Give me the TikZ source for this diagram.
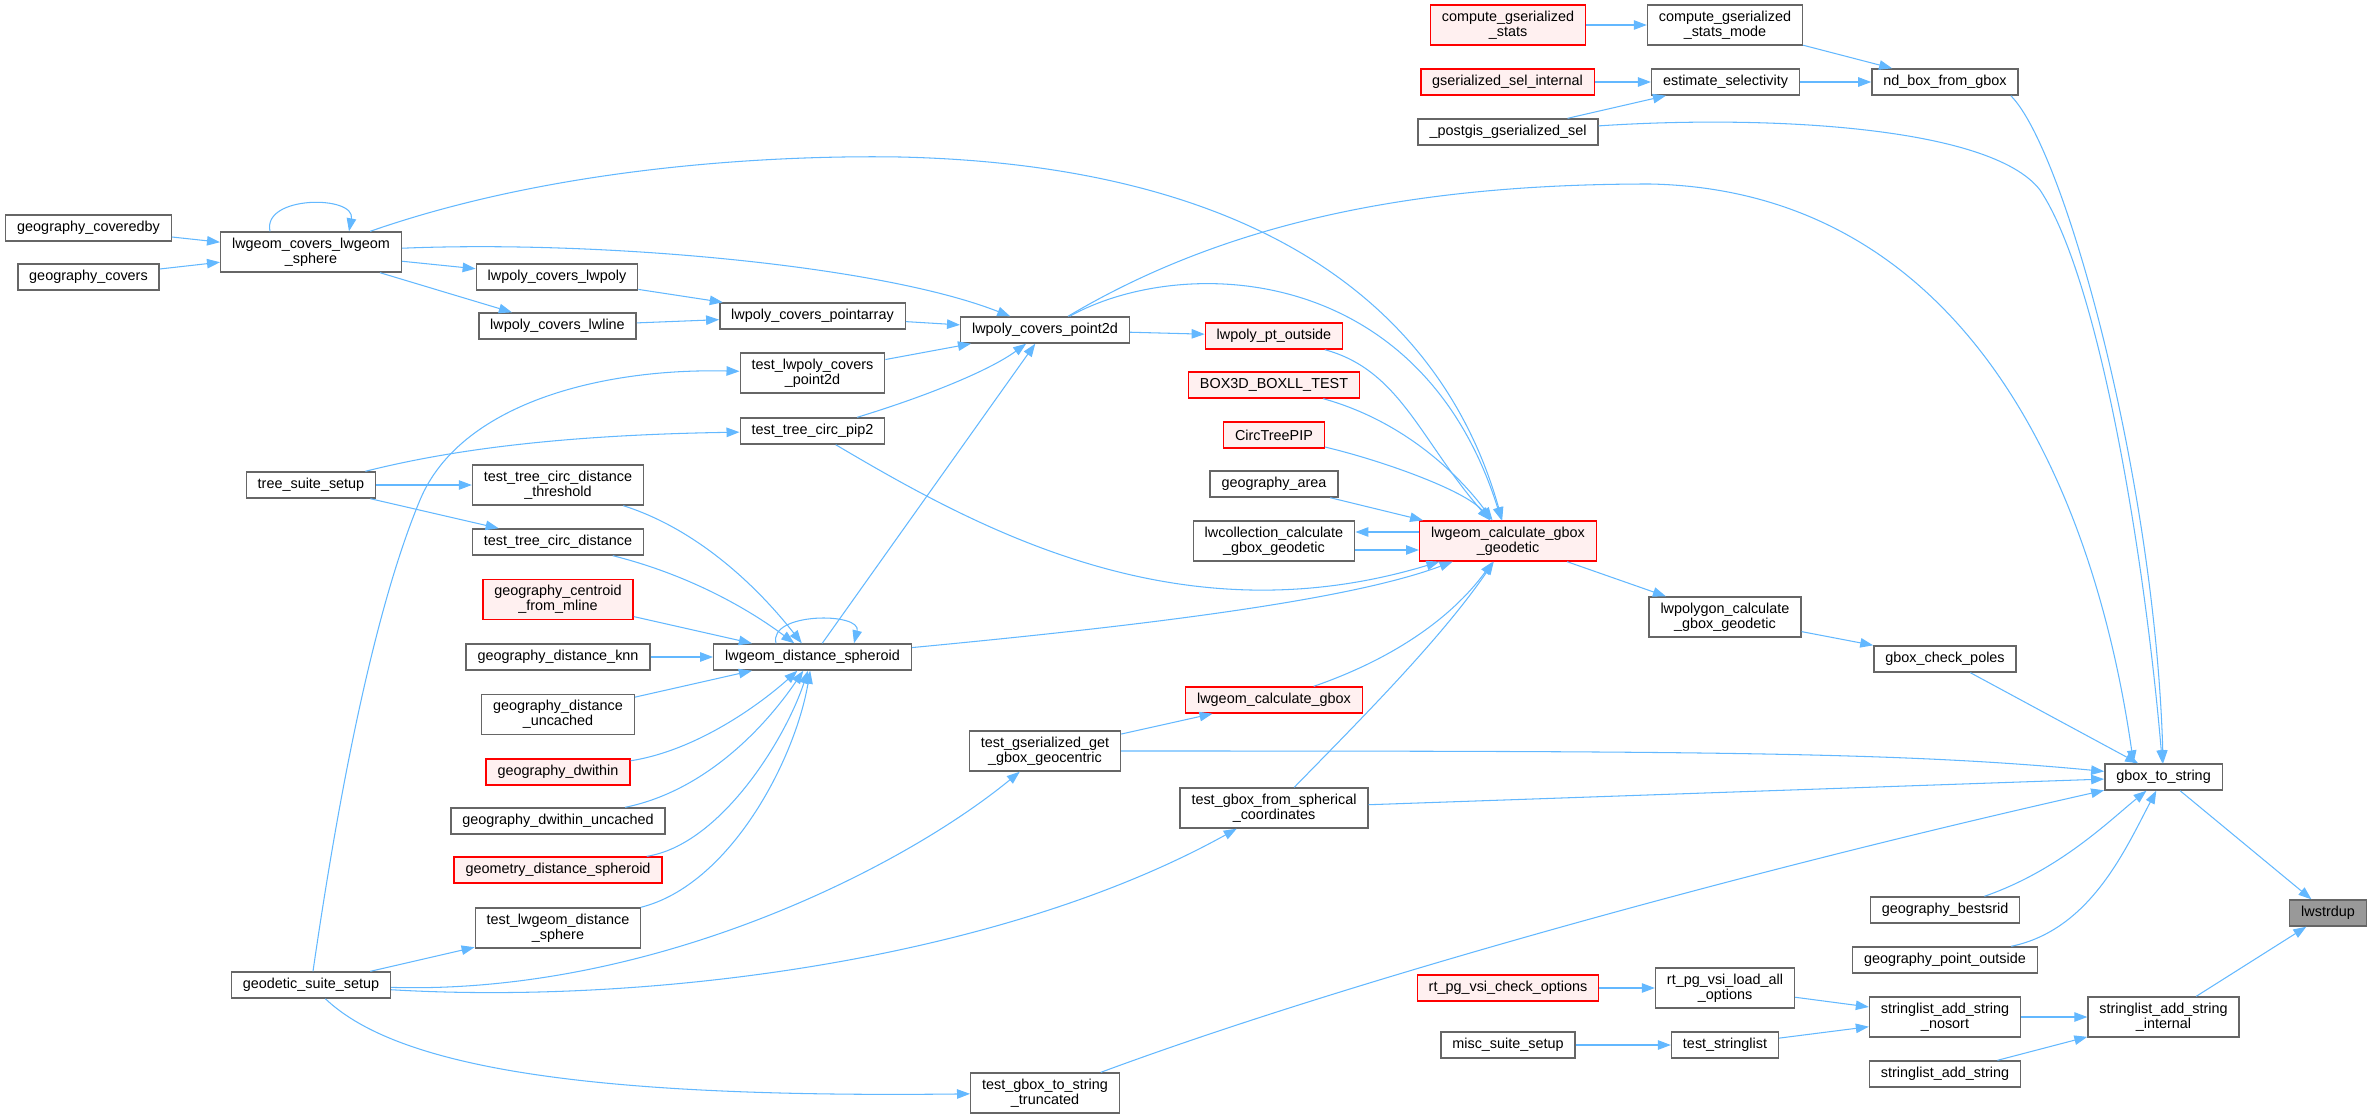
\documentclass[tikz,border=0pt]{standalone}
\usepackage{fontspec}
\setmainfont{Liberation Sans}
\usetikzlibrary{arrows.meta}
\definecolor{edgeblue}{HTML}{63B8FF}
\definecolor{boxgray}{HTML}{666666}
\definecolor{redfill}{HTML}{FFF0F0}
\definecolor{rootfill}{HTML}{999999}
\begin{document}
\begin{tikzpicture}[x=0.02cm,y=-0.02cm,
    box/.style={draw=boxgray,line width=0.8pt,fill=white,inner xsep=6.5pt,inner ysep=2pt,
      minimum height=0.52cm,align=center,font=\fontsize{8.2}{8.4}\selectfont},
    redbox/.style={box,draw=red,fill=redfill},
    rootbox/.style={box,fill=rootfill},
    tall/.style={minimum height=0.8cm},
    call/.style={draw=edgeblue,line width=0.6pt,-{Triangle[length=0.26cm,width=0.19cm]}}]
    \useasboundingbox (0,0) rectangle (2373,1119);

    \node[redbox,tall] (cgs) at (1508,25){compute\_gserialized\\\_stats};
    \node[box,tall] (cgsm) at (1725,25){compute\_gserialized\\\_stats\_mode};
    \node[redbox] (gsi) at (1507.5,82){gserialized\_sel\_internal};
    \node[box] (estsel) at (1725.5,82){estimate\_selectivity};
    \node[box] (ndbox) at (1945,82){nd\_box\_from\_gbox};
    \node[box] (pgsel) at (1508,132){\_postgis\_gserialized\_sel};
    \node[box] (gcby) at (88.5,228){geography\_coveredby};
    \node[box] (gcov) at (88.5,277){geography\_covers};
    \node[box,tall] (sphere) at (311,252){lwgeom\_covers\_lwgeom\\\_sphere};
    \node[box] (cvpoly) at (557,277){lwpoly\_covers\_lwpoly};
    \node[box] (cvline) at (557.5,326){lwpoly\_covers\_lwline};
    \node[box] (cvparr) at (812.5,316){lwpoly\_covers\_pointarray};
    \node[box] (cvp2d) at (1045,330){lwpoly\_covers\_point2d};
    \node[redbox] (ptout) at (1274,336){lwpoly\_pt\_outside};
    \node[box,tall] (tcvp2d) at (812.5,373){test\_lwpoly\_covers\\\_point2d};
    \node[redbox] (box3d) at (1274,385){BOX3D\_BOXLL\_TEST};
    \node[box] (pip2) at (812.5,431){test\_tree\_circ\_pip2};
    \node[redbox] (ctpip) at (1274,435){CircTreePIP};
    \node[box] (treesetup) at (311,485){tree\_suite\_setup};
    \node[box,tall] (tcdthr) at (558,485){test\_tree\_circ\_distance\\\_threshold};
    \node[box] (garea) at (1274,484){geography\_area};
    \node[box,tall] (lwcoll) at (1274,541){lwcollection\_calculate\\\_gbox\_geodetic};
    \node[redbox,tall] (calcgeod) at (1508,541){lwgeom\_calculate\_gbox\\\_geodetic};
    \node[box] (tcd) at (558,542){test\_tree\_circ\_distance};
    \node[redbox,tall] (gcent) at (558,599.5){geography\_centroid\\\_from\_mline};
    \node[box,tall] (lwpolyg) at (1725,617){lwpolygon\_calculate\\\_gbox\_geodetic};
    \node[box] (gknn) at (558,657){geography\_distance\_knn};
    \node[box] (dspher) at (812.5,657){lwgeom\_distance\_spheroid};
    \node[box] (gpoles) at (1945,659){gbox\_check\_poles};
    \node[redbox] (calcgbox) at (1274,700){lwgeom\_calculate\_gbox};
    \node[box,tall] (gdunc) at (558,714.5){geography\_distance\\\_uncached};
    \node[box,tall] (tgeocen) at (1045,751){test\_gserialized\_get\\\_gbox\_geocentric};
    \node[redbox] (gdw) at (558,772){geography\_dwithin};
    \node[box] (g2s) at (2163.5,777){gbox\_to\_string};
    \node[box,tall] (tsph) at (1274,808){test\_gbox\_from\_spherical\\\_coordinates};
    \node[box] (gdwunc) at (558,821){geography\_dwithin\_uncached};
    \node[redbox] (geomds) at (558,870){geometry\_distance\_spheroid};
    \node[box] (bestsrid) at (1945,910){geography\_bestsrid};
    \node[rootbox] (lwstrdup) at (2328,913){lwstrdup};
    \node[box,tall] (tlds) at (558,928){test\_lwgeom\_distance\\\_sphere};
    \node[box] (ptoutside) at (1945,960){geography\_point\_outside};
    \node[box] (geosetup) at (311,985){geodetic\_suite\_setup};
    \node[redbox] (vsichk) at (1508,988){rt\_pg\_vsi\_check\_options};
    \node[box,tall] (vsiload) at (1725,988){rt\_pg\_vsi\_load\_all\\\_options};
    \node[box,tall] (slnosort) at (1945,1017){stringlist\_add\_string\\\_nosort};
    \node[box,tall] (slint) at (2163.5,1017){stringlist\_add\_string\\\_internal};
    \node[box] (miscsetup) at (1508,1045){misc\_suite\_setup};
    \node[box] (tstrl) at (1725,1045){test\_stringlist};
    \node[box] (sladd) at (1945,1074){stringlist\_add\_string};
    \node[box,tall] (ttrunc) at (1045,1093){test\_gbox\_to\_string\\\_truncated};

    \draw (cgs) edge[call] (cgsm);
    \draw (cgsm) edge[call] (ndbox);
    \draw (gsi) edge[call] (estsel);
    \draw (pgsel) edge[call] (estsel);
    \draw (estsel) edge[call] (ndbox);
    \draw[call] ([xshift=-0.16cm]ndbox.south east) .. controls (2065,150) and (2155,480) .. (g2s);
    \draw[call] (pgsel) .. controls (1760,115) and (1990,125) .. (2040,190) .. controls (2100,280) and (2145,560) .. (g2s);

    \draw (gcby) edge[call] (sphere);
    \draw (gcov) edge[call] (sphere);
    \draw[call] ([xshift=-0.82cm]sphere.north) .. controls (262,195) and (356,195) .. ([xshift=0.76cm]sphere.north);
    \draw[call] (sphere) .. controls (560,165) and (780,155) .. (900,157) .. controls (1250,165) and (1440,300) .. (calcgeod);
    \draw[call] (sphere) .. controls (600,240) and (880,265) .. (cvp2d);
    \draw (sphere) edge[call] (cvpoly);
    \draw (sphere) edge[call] (cvline);
    \draw (cvpoly) edge[call] (cvparr);
    \draw (cvline) edge[call] (cvparr);
    \draw (cvparr) edge[call] (cvp2d);
    \draw (tcvp2d) edge[call] (cvp2d);
    \draw[call] (pip2) .. controls (930,395) and (990,370) .. (cvp2d);
    \draw (dspher) edge[call] (cvp2d);
    \draw (cvp2d) edge[call] (ptout);
    \draw[call] (cvp2d) .. controls (1180,255) and (1420,260) .. (calcgeod);
    \draw[call] (cvp2d) .. controls (1230,220) and (1420,184) .. (1650,184) .. controls (1950,190) and (2090,460) .. ([xshift=-0.6cm]g2s.north);

    \draw[call] (ptout) .. controls (1400,370) and (1420,440) .. (calcgeod);
    \draw[call] (box3d) .. controls (1400,420) and (1455,470) .. (calcgeod);
    \draw[call] (ctpip) .. controls (1380,460) and (1465,490) .. (calcgeod);
    \draw (garea) edge[call] (calcgeod);
    \draw ([yshift=0.18cm]calcgeod.west) edge[call] ([yshift=0.18cm]lwcoll.east);
    \draw ([yshift=-0.18cm]lwcoll.east) edge[call] ([yshift=-0.18cm]calcgeod.west);
    \draw[call] (pip2) .. controls (980,530) and (1180,640) .. (calcgeod);
    \draw[call] (dspher) .. controls (1150,625) and (1350,600) .. (calcgeod);
    \draw[call] (calcgbox) .. controls (1390,660) and (1450,620) .. (calcgeod);
    \draw[call] (tsph) .. controls (1360,720) and (1440,640) .. (calcgeod);
    \draw (calcgeod) edge[call] (lwpolyg);
    \draw (lwpolyg) edge[call] (gpoles);
    \draw (gpoles) edge[call] (g2s);

    \draw[call] (treesetup) .. controls (450,450) and (560,435) .. (pip2);
    \draw (treesetup) edge[call] (tcdthr);
    \draw (treesetup) edge[call] (tcd);

    \draw[call] (tcdthr) .. controls (700,530) and (760,590) .. (dspher);
    \draw[call] (tcd) .. controls (690,575) and (750,610) .. (dspher);
    \draw (gcent) edge[call] (dspher);
    \draw (gknn) edge[call] (dspher);
    \draw (gdunc) edge[call] (dspher);
    \draw[call] (gdw) .. controls (700,750) and (765,700) .. (dspher);
    \draw[call] (gdwunc) .. controls (710,790) and (770,720) .. (dspher);
    \draw[call] (geomds) .. controls (720,845) and (785,740) .. (dspher);
    \draw[call] (tlds) .. controls (730,885) and (795,760) .. (dspher);
    \draw[call] ([xshift=-0.73cm]dspher.north) .. controls (768,612) and (862,612) .. ([xshift=0.83cm]dspher.north);

    \draw[call] (geosetup) .. controls (335,820) and (370,620) .. (420,500) .. controls (460,404) and (600,368) .. (tcvp2d);
    \draw (geosetup) edge[call] (tlds);
    \draw[call] (geosetup) .. controls (650,995) and (900,870) .. (tgeocen);
    \draw[call] (geosetup) .. controls (650,1005) and (1000,960) .. (tsph);
    \draw[call] (geosetup) .. controls (400,1070) and (600,1098) .. (ttrunc);

    \draw (tgeocen) edge[call] (calcgbox);
    \draw[call] (tgeocen) .. controls (1700,751) and (1900,752) .. (g2s);
    \draw (tsph) edge[call] (g2s);
    \draw[call] (ttrunc) .. controls (1350,980) and (1750,870) .. (g2s);
    \draw[call] (bestsrid) .. controls (2060,870) and (2110,820) .. (g2s);
    \draw[call] (ptoutside) .. controls (2090,930) and (2125,850) .. (g2s);
    \draw (g2s) edge[call] (lwstrdup);

    \draw (vsichk) edge[call] (vsiload);
    \draw (vsiload) edge[call] (slnosort);
    \draw (miscsetup) edge[call] (tstrl);
    \draw (tstrl) edge[call] (slnosort);
    \draw (slnosort) edge[call] (slint);
    \draw (sladd) edge[call] (slint);
    \draw (slint) edge[call] (lwstrdup);
  \end{tikzpicture}
\end{document}
